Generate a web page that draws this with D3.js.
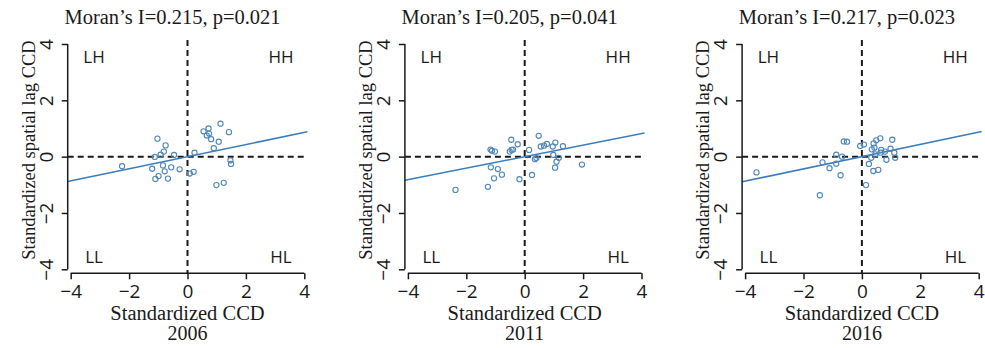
<!DOCTYPE html>
<html>
<head>
<meta charset="utf-8">
<script src="https://cdn.jsdelivr.net/npm/d3@7"></script>
<style>
  body { margin: 0; background: #fff; }
  svg { display: block; }
  .tick-label { font-family: "Open Sans", "Noto Sans", sans-serif; font-size: 19px; fill: #1a1a1a; }
  .quad { font-family: "Open Sans", "Noto Sans", sans-serif; font-size: 17px; fill: #1a1a1a; }
  .serif { font-family: "Liberation Serif", "Times New Roman", serif; fill: #1a1a1a; }
</style>
</head>
<body>
<div id="chart"></div>
<script>
// data
const years = ['2006', '2011', '2016'];
const moranI = [0.215, 0.205, 0.217];
const pValues = [0.021, 0.041, 0.023];
const tickValues = [-4, -2, 0, 2, 4];
const quadrants = ['LH', 'HH', 'LL', 'HL'];

const x2006 = [-2.24, -1.03, -0.75, -0.81, -0.92, -1.12, -0.46, -1.21, -0.84, -0.56, -0.27, -0.78, -0.99, -1.10, -0.67,
  0.08, 0.21, 0.24, 0.55, 0.72, 0.74, 0.66, 0.81, 1.13, 1.42, 1.07, 0.90, 1.47, 1.49, 0.99, 1.24];
const y2006 = [-0.34, 0.64, 0.40, 0.18, 0.07, -0.01, 0.06, -0.43, -0.31, -0.38, -0.45, -0.52, -0.69, -0.79, -0.78,
  -0.60, -0.54, 0.14, 0.90, 1.00, 0.82, 0.75, 0.62, 1.17, 0.87, 0.53, 0.30, -0.13, -0.26, -1.01, -0.93];

const x2011 = [-2.37, -1.26, -1.05, -0.78, -0.92, -1.16, -1.17, -1.12, -1.02, -0.46, -0.24, -0.51, -0.45, -0.40, -0.18,
  0.15, 0.25, 0.35, 0.40, 0.48, 0.55, 0.66, 0.76, 0.96, 1.05, 1.31, 0.98, 1.17, 1.09, 1.04, 1.96];
const y2011 = [-1.18, -1.07, -0.77, -0.64, -0.44, -0.38, 0.25, 0.21, 0.18, 0.60, 0.44, 0.18, 0.24, 0.25, -0.80,
  0.24, -0.65, -0.09, -0.05, 0.74, 0.36, 0.39, 0.45, 0.36, 0.50, 0.37, 0.06, -0.04, -0.18, -0.39, -0.28];

const x2016 = [-3.61, -1.44, -1.35, -1.11, -0.88, -0.88, -0.73, -0.68, -0.62, -0.51, -0.06, 0.07, 0.14, 0.24, 0.32,
  0.34, 0.40, 0.43, 0.49, 0.63, 0.39, 0.56, 0.46, 0.66, 0.64, 0.79, 0.84, 0.98, 1.04, 1.11, 1.14];
const y2016 = [-0.56, -1.37, -0.20, -0.41, -0.25, 0.07, -0.66, 0.00, 0.54, 0.53, 0.38, 0.43, -1.01, -0.26, -0.04,
  0.26, 0.47, 0.32, 0.58, 0.65, -0.51, -0.47, 0.08, 0.24, 0.14, 0.18, -0.11, 0.28, 0.60, 0.14, -0.04];

const xSeries = [x2006, x2011, x2016];
const ySeries = [y2006, y2011, y2016];

const width = 985, height = 348;
const panelStep = 337.2;
const panelLeft = 70.7, panelInner = 233.6;
const plotTop = 44, plotBottom = 269.3;
const ink = '#1a1a1a';
const pointColor = '#4f86bb';
const lineColor = '#3b7dbd';

const svg = d3.select('#chart').append('svg')
  .attr('width', width)
  .attr('height', height);

years.forEach((year, i) => {
  const x = d3.scaleLinear().domain([-4, 4]).range([panelLeft + i * panelStep, panelLeft + i * panelStep + panelInner]);
  const y = d3.scaleLinear().domain([-4, 4]).range([plotBottom, plotTop]);
  const g = svg.append('g').attr('class', 'panel');

  const axisX = x(-4) - 3;
  const axisY = y(-4) + 4;
  const edgeR = x(4) + 3;
  const edgeT = y(4) - 4;

  // reference lines
  g.append('line')
    .attr('x1', axisX).attr('x2', edgeR)
    .attr('y1', y(0)).attr('y2', y(0))
    .attr('stroke', ink).attr('stroke-width', 2).attr('stroke-dasharray', '6,4');
  g.append('line')
    .attr('x1', x(0)).attr('x2', x(0))
    .attr('y1', edgeT).attr('y2', axisY)
    .attr('stroke', ink).attr('stroke-width', 2).attr('stroke-dasharray', '6,4');

  // regression line, slope = Moran's I
  const line = d3.line().x(d => x(d)).y(d => y(d * moranI[i]));
  g.append('path')
    .datum([x.invert(axisX), x.invert(edgeR)])
    .attr('d', line)
    .attr('fill', 'none')
    .attr('stroke', lineColor)
    .attr('stroke-width', 1.6);

  // points
  g.selectAll('circle')
    .data(xSeries[i].map((v, k) => [v, ySeries[i][k]]))
    .enter().append('circle')
    .attr('cx', d => x(d[0]))
    .attr('cy', d => y(d[1]))
    .attr('r', 2.6)
    .attr('fill', 'none')
    .attr('stroke', pointColor)
    .attr('stroke-width', 1.1);

  // x axis
  const gx = g.append('g')
    .attr('transform', `translate(0,${axisY})`)
    .call(d3.axisBottom(x).tickValues(tickValues).tickSize(6).tickSizeOuter(0).tickFormat(() => ''));
  gx.select('.domain').attr('stroke', ink).attr('stroke-width', 1.5).attr('d', `M${x(-4)},0H${x(4)}`);
  gx.selectAll('.tick line').attr('stroke', ink).attr('stroke-width', 1.5);
  gx.selectAll('.tick').append('text')
    .attr('class', 'tick-label')
    .attr('y', 25)
    .attr('text-anchor', 'middle')
    .text(d => d < 0 ? '\u2212' + Math.abs(d) : d);

  // y axis
  const gy = g.append('g')
    .attr('transform', `translate(${axisX},0)`)
    .call(d3.axisLeft(y).tickValues(tickValues).tickSize(6).tickSizeOuter(0).tickFormat(() => ''));
  gy.select('.domain').attr('stroke', ink).attr('stroke-width', 1.5).attr('d', `M0,${y(4)}V${y(-4)}`);
  gy.selectAll('.tick line').attr('stroke', ink).attr('stroke-width', 1.5);
  gy.selectAll('.tick').append('text')
    .attr('class', 'tick-label')
    .attr('transform', 'translate(-15,0) rotate(-90)')
    .attr('text-anchor', 'middle')
    .text(d => d < 0 ? '\u2212' + Math.abs(d) : d);

  // quadrant labels
  const qx = [-3.2, 3.2, -3.2, 3.2];
  const qy = [3.55, 3.55, -3.55, -3.55];
  quadrants.forEach((q, k) => {
    g.append('text')
      .attr('class', 'quad')
      .attr('x', x(qx[k]))
      .attr('y', y(qy[k]))
      .attr('dy', '0.36em')
      .attr('text-anchor', 'middle')
      .text(q);
  });

  // titles
  g.append('text')
    .attr('class', 'serif')
    .attr('x', x(0) - 15)
    .attr('y', 24)
    .attr('text-anchor', 'middle')
    .style('font-size', '20.5px')
    .text(`Moran\u2019s I=${moranI[i].toFixed(3)}, p=${pValues[i].toFixed(3)}`);

  g.append('text')
    .attr('class', 'serif')
    .attr('x', x(0))
    .attr('y', 320)
    .attr('text-anchor', 'middle')
    .style('font-size', '20.5px')
    .text('Standardized CCD');

  g.append('text')
    .attr('class', 'serif')
    .attr('x', x(0))
    .attr('y', 340)
    .attr('text-anchor', 'middle')
    .style('font-size', '20px')
    .text(year);

  g.append('text')
    .attr('class', 'serif')
    .attr('transform', `translate(${axisX - 33},150) rotate(-90)`)
    .attr('text-anchor', 'middle')
    .style('font-size', '18.5px')
    .text('Standardized spatial lag CCD');
});
</script>
</body>
</html>
